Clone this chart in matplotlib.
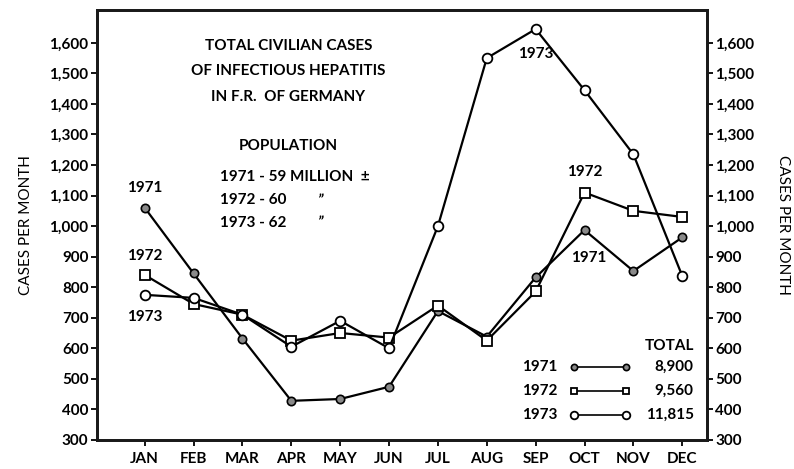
import numpy as np
import matplotlib
matplotlib.use("Agg")
import matplotlib.pyplot as plt

plt.rcParams['font.family'] = ['Lato', 'DejaVu Sans']
plt.rcParams['font.weight'] = 'bold'

months = ["JAN", "FEB", "MAR", "APR", "MAY", "JUN",
          "JUL", "AUG", "SEP", "OCT", "NOV", "DEC"]
cases_1971 = [1060, 845, 632, 428, 434, 474, 722, 638, 832, 987, 853, 963]
cases_1972 = [840, 745, 710, 625, 650, 635, 740, 625, 786, 1110, 1050, 1030]
cases_1973 = [775, 765, 710, 605, 690, 600, 1000, 1550, 1645, 1445, 1235, 837]
years = ["1971", "1972", "1973"]
totals = ["8,900", "9,560", "11,815"]
y_ticks = list(range(300, 1700, 100))
title_lines = ["TOTAL CIVILIAN CASES", "OF INFECTIOUS HEPATITIS", "IN F.R.  OF GERMANY"]

FS = 11
x = np.arange(len(months))

fig = plt.figure(figsize=(7.94, 4.69), dpi=100)
ax = fig.add_axes([0.122, 0.062, 0.768, 0.917])

styles = [
    dict(marker="o", markersize=6, markerfacecolor="#8a8a8a", markeredgecolor="black", markeredgewidth=1.2),
    dict(marker="s", markersize=6.5, markerfacecolor="white", markeredgecolor="black", markeredgewidth=1.3),
    dict(marker="o", markersize=7, markerfacecolor="white", markeredgecolor="black", markeredgewidth=1.3),
]
series = [cases_1971, cases_1972, cases_1973]
for vals, st in zip(series, styles):
    ax.plot(x, vals, color="black", linewidth=1.6, zorder=3, **st)

ax.set_xlim(-0.98, 11.5)
ax.set_ylim(300, 1708)
ax.set_xticks(x)
ax.set_xticklabels(months, fontsize=FS)
ax.set_yticks(y_ticks)
ylabels = [f"{v:,}" for v in y_ticks]
ax.set_yticklabels(ylabels, fontsize=FS)
ax.tick_params(axis="both", direction="out", length=4, width=1.3, pad=2)
ax.tick_params(axis="x", pad=5)

ax2 = ax.twinx()
ax2.set_ylim(ax.get_ylim())
ax2.set_yticks(y_ticks)
ax2.set_yticklabels(ylabels, fontsize=FS)
ax2.tick_params(axis="y", direction="out", length=4, width=1.3, pad=2)

for a in (ax, ax2):
    for s in a.spines.values():
        s.set_linewidth(2)
        s.set_color("#1a1a1a")

ax.set_ylabel("CASES PER MONTH", fontsize=FS, labelpad=12)
ax2.set_ylabel("CASES PER MONTH", fontsize=FS, rotation=-90, labelpad=26)

# title block
for i, line in enumerate(title_lines):
    ax.text(0.314, 0.916 - i * 0.059, line, transform=ax.transAxes,
            ha="center", va="center", fontsize=FS)
ax.text(0.314, 0.684, "POPULATION", transform=ax.transAxes, ha="center", va="center", fontsize=FS)
ax.text(0.202, 0.612, "1971 - 59 MILLION  \u00b1", transform=ax.transAxes, ha="left", va="center", fontsize=FS)
ax.text(0.202, 0.558, "1972 - 60", transform=ax.transAxes, ha="left", va="center", fontsize=FS)
ax.text(0.202, 0.505, "1973 - 62", transform=ax.transAxes, ha="left", va="center", fontsize=FS)
ax.text(0.366, 0.556, "\u201d", transform=ax.transAxes, ha="center", va="center", fontsize=FS, style="italic")
ax.text(0.366, 0.503, "\u201d", transform=ax.transAxes, ha="center", va="center", fontsize=FS, style="italic")

# curve labels
lab = dict(ha="center", va="center", fontsize=FS, textcoords="offset points")
ax.annotate("1971", (0, cases_1971[0]), xytext=(0, 14), **lab)
ax.annotate("1972", (0, cases_1972[0]), xytext=(0, 14), **lab)
ax.annotate("1973", (0, cases_1973[0]), xytext=(0, -16), **lab)
ax.annotate("1973", (8, cases_1973[8]), xytext=(0, -18), **lab)
ax.annotate("1972", (9, cases_1972[9]), xytext=(0, 15), **lab)
ax.annotate("1971", (9, cases_1971[9]), xytext=(3, -20), **lab)

# key with totals
ax.text(0.979, 0.219, "TOTAL", transform=ax.transAxes, ha="right", va="center", fontsize=FS)
key_styles = [dict(st, markersize=st["markersize"] - 1.5) for st in styles]
for i, (yr, tot, st) in enumerate(zip(years, totals, key_styles)):
    yy = 0.170 - i * 0.056
    ax.text(0.756, yy, yr, transform=ax.transAxes, ha="right", va="center", fontsize=FS)
    ax.plot([0.782, 0.868], [yy, yy], transform=ax.transAxes, color="black",
            linewidth=1.2, **st)
    ax.text(0.979, yy, tot, transform=ax.transAxes, ha="right", va="center", fontsize=FS)

fig.savefig("out.png", dpi=100)
